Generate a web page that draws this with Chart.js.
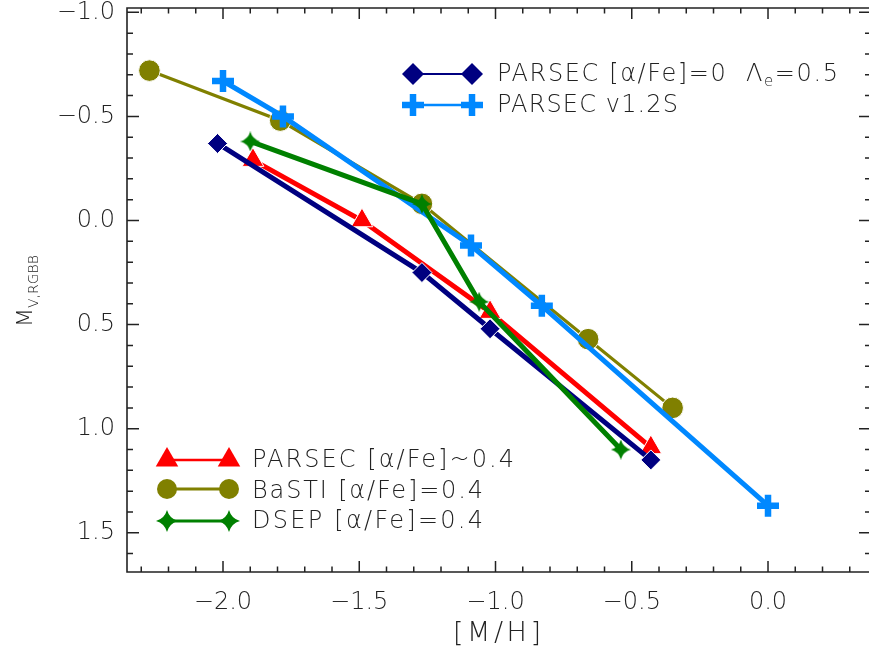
<!DOCTYPE html>
<html>
<head>
<meta charset="utf-8">
<script src="https://cdn.jsdelivr.net/npm/chart.js@4.4.1/dist/chart.umd.min.js"></script>
<style>
  html, body { margin: 0; padding: 0; background: #fff; overflow: hidden; }
  #wrap { width: 869px; height: 655px; }
</style>
</head>
<body>
<div id="wrap"><canvas id="c" width="869" height="655"></canvas></div>
<script>
// [M/H] and M_V of the red giant branch bump for each set of models
const mhParsec0 = [-2.02, -1.27, -1.02, -0.43];
const mvParsec0 = [-0.37, 0.25, 0.52, 1.15];

const mhParsecS = [-2.00, -1.78, -1.09, -0.83, 0.00];
const mvParsecS = [-0.67, -0.50, 0.12, 0.41, 1.37];

const mhParsecA = [-1.89, -1.49, -1.02, -0.43];
const mvParsecA = [-0.29, 0.00, 0.44, 1.09];

const mhBasti = [-2.27, -1.79, -1.27, -0.66, -0.35];
const mvBasti = [-0.72, -0.48, -0.08, 0.57, 0.90];

const mhDsep = [-1.90, -1.27, -1.06, -0.54];
const mvDsep = [-0.38, -0.08, 0.39, 1.10];

const xTickValues = [-2.0, -1.5, -1.0, -0.5, 0.0];
const yTickValues = [-1.0, -0.5, 0.0, 0.5, 1.0, 1.5];

const FAMILY = '"DejaVu Sans", sans-serif';
const WEIGHT = '200';
const INK = '#222';

const C_NAVY = '#000080';
const C_BLUE = '#0088ff';
const C_RED = '#ff0000';
const C_OLIVE = '#808000';
const C_GREEN = '#008000';

function fontStr(size) { return WEIGHT + ' ' + size + 'px ' + FAMILY; }

// four-pointed star marker
function makeStar(size, color) {
  const cv = document.createElement('canvas');
  cv.width = size; cv.height = size;
  const g = cv.getContext('2d');
  const c = size / 2, k = size * 0.11;
  g.fillStyle = color;
  g.beginPath();
  g.moveTo(c, 0);
  g.quadraticCurveTo(c + k, c - k, size, c);
  g.quadraticCurveTo(c + k, c + k, c, size);
  g.quadraticCurveTo(c - k, c + k, 0, c);
  g.quadraticCurveTo(c - k, c - k, c, 0);
  g.closePath();
  g.fill();
  return cv;
}
const starData = makeStar(20, C_GREEN);
const starLegend = makeStar(22, C_GREEN);

function pts(xs, ys) { return xs.map((x, i) => ({ x: x, y: ys[i] })); }

function fmt(v) {
  const s = (Math.abs(v) < 1e-9 ? 0 : v).toFixed(1);
  return s.replace('-', '\u2212');
}

// text drawn in runs (for subscripts), spread with letter spacing to a given width
function drawRuns(ctx, runs, x, baseline, targetWidth) {
  let w = 0, n = 0;
  runs.forEach(r => {
    ctx.font = fontStr(r.size);
    w += ctx.measureText(r.t).width;
    n += [...r.t].length;
  });
  const ls = targetWidth ? (targetWidth - w) / Math.max(1, n - 1) : 0;
  let cx = x;
  runs.forEach(r => {
    ctx.font = fontStr(r.size);
    const nw = ctx.measureText(r.t).width;
    ctx.letterSpacing = ls + 'px';
    ctx.fillText(r.t, cx, baseline + (r.dy || 0));
    ctx.letterSpacing = '0px';
    cx += nw + ls * [...r.t].length;
  });
}

function marker(ctx, x, y, m) {
  ctx.save();
  ctx.fillStyle = m.fill;
  ctx.strokeStyle = m.stroke;
  ctx.lineWidth = m.bw;
  Chart.helpers.drawPoint(ctx, { pointStyle: m.style, radius: m.r, rotation: 0, borderWidth: m.bw }, x, y);
  ctx.restore();
}

const legendItems = [
  { x1: 413, x2: 472, y: 74, lw: 2, color: C_NAVY,
    m: { style: 'rectRot', r: 11, fill: C_NAVY, stroke: C_NAVY, bw: 0 },
    runs: [{ t: 'PARSEC [\u03b1/Fe]=0  \u039b', size: 24 }, { t: 'e', size: 15, dy: 5 }, { t: '=0.5', size: 24 }],
    tx: 497, base: 80.5, tw: 341 },
  { x1: 413, x2: 472, y: 105, lw: 2.5, color: C_BLUE,
    m: { style: 'cross', r: 11, fill: C_BLUE, stroke: C_BLUE, bw: 6.5 },
    runs: [{ t: 'PARSEC v1.2S', size: 24 }],
    tx: 497, base: 111.5, tw: 181 },
  { x1: 167, x2: 229, y: 460, lw: 2.5, color: C_RED,
    m: { style: 'triangle', r: 13, fill: C_RED, stroke: C_RED, bw: 0 },
    runs: [{ t: 'PARSEC [\u03b1/Fe]~0.4', size: 24 }],
    tx: 252, base: 466.5, tw: 262 },
  { x1: 167, x2: 229, y: 489, lw: 3, color: C_OLIVE,
    m: { style: 'circle', r: 10, fill: C_OLIVE, stroke: C_OLIVE, bw: 0 },
    runs: [{ t: 'BaSTI [\u03b1/Fe]=0.4', size: 24 }],
    tx: 252, base: 497.5, tw: 231 },
  { x1: 167, x2: 229, y: 521, lw: 3, color: C_GREEN,
    m: { style: starLegend, r: 11, fill: C_GREEN, stroke: C_GREEN, bw: 0 },
    runs: [{ t: 'DSEP [\u03b1/Fe]=0.4', size: 24 }],
    tx: 252, base: 528, tw: 231 }
];

const decorPlugin = {
  id: 'decor',
  afterDraw(chart) {
    const ctx = chart.ctx;
    const a = chart.chartArea;
    const xs = chart.scales.x, ys = chart.scales.y;
    const L = a.left, T = a.top, B = a.bottom, R = a.right + 2;

    ctx.save();
    ctx.strokeStyle = INK;
    ctx.lineWidth = 1.6;
    ctx.beginPath();
    ctx.moveTo(R, T); ctx.lineTo(L, T); ctx.lineTo(L, B); ctx.lineTo(R, B);
    ctx.stroke();

    ctx.lineWidth = 1.5;
    const MAJ = 11, MIN = 5.5;
    const isMajor = (v, arr) => arr.some(t => Math.abs(t - v) < 1e-6);
    // x ticks, bottom and top
    const xMaj = xs.ticks.map(t => t.value);
    for (let v = Math.ceil(xs.min * 10) / 10; v <= xs.max + 1e-9; v = Math.round((v + 0.1) * 10) / 10) {
      const len = isMajor(v, xMaj) ? MAJ : MIN;
      const px = xs.getPixelForValue(v);
      ctx.beginPath();
      ctx.moveTo(px, B); ctx.lineTo(px, B - len);
      ctx.moveTo(px, T); ctx.lineTo(px, T + len);
      ctx.stroke();
    }
    // y ticks, left and right
    const yMaj = ys.ticks.map(t => t.value);
    for (let v = Math.ceil(ys.min * 10) / 10; v <= ys.max + 1e-9; v = Math.round((v + 0.1) * 10) / 10) {
      const len = isMajor(v, yMaj) ? MAJ + 1 : MIN + 0.5;
      const py = ys.getPixelForValue(v);
      ctx.beginPath();
      ctx.moveTo(L, py); ctx.lineTo(L + len, py);
      ctx.moveTo(R, py); ctx.lineTo(R - len, py);
      ctx.stroke();
    }

    // axis titles
    ctx.fillStyle = INK;
    ctx.textBaseline = 'alphabetic';
    ctx.textAlign = 'left';
    drawRuns(ctx, [{ t: '[M/H]', size: 27 }], 453, 641, 88);

    ctx.save();
    ctx.translate(32, 327);
    ctx.rotate(-Math.PI / 2);
    drawRuns(ctx, [{ t: 'M', size: 22 }, { t: 'V,RGBB', size: 14, dy: 6 }], 0, 0, 0);
    ctx.restore();

    // legend blocks
    legendItems.forEach(it => {
      ctx.strokeStyle = it.color;
      ctx.lineWidth = it.lw;
      ctx.beginPath();
      ctx.moveTo(it.x1, it.y); ctx.lineTo(it.x2, it.y);
      ctx.stroke();
      marker(ctx, it.x1, it.y, it.m);
      marker(ctx, it.x2, it.y, it.m);
      ctx.fillStyle = INK;
      drawRuns(ctx, it.runs, it.tx, it.base, it.tw);
    });
    ctx.restore();
  }
};

const datasets = [
  { label: 'DSEP [\u03b1/Fe]=0.4', data: pts(mhDsep, mvDsep),
    borderColor: C_GREEN, borderWidth: 5,
    pointStyle: starData, pointRadius: 10 },
  { label: 'PARSEC [\u03b1/Fe]=0 \u039be=0.5', data: pts(mhParsec0, mvParsec0),
    borderColor: C_NAVY, borderWidth: 5,
    pointStyle: 'rectRot', pointRadius: 10, pointBackgroundColor: C_NAVY,
    pointBorderColor: '#ffffff', pointBorderWidth: 1 },
  { label: 'PARSEC [\u03b1/Fe]~0.4', data: pts(mhParsecA, mvParsecA),
    borderColor: C_RED, borderWidth: 5,
    pointStyle: 'triangle', pointRadius: 12.5, pointBackgroundColor: C_RED,
    pointBorderColor: '#ffffff', pointBorderWidth: 1 },
  { label: 'PARSEC v1.2S', data: pts(mhParsecS, mvParsecS),
    borderColor: C_BLUE, borderWidth: 5,
    pointStyle: 'cross', pointRadius: 11, pointBackgroundColor: C_BLUE,
    pointBorderColor: C_BLUE, pointBorderWidth: 6.5 },
  { label: 'BaSTI [\u03b1/Fe]=0.4', data: pts(mhBasti, mvBasti),
    borderColor: C_OLIVE, borderWidth: 3.2,
    pointStyle: 'circle', pointRadius: 10.8, pointBackgroundColor: C_OLIVE,
    pointBorderColor: '#ffffff', pointBorderWidth: 1 }
];
datasets.forEach(d => { d.showLine = true; d.fill = false; d.tension = 0; d.clip = false; });

function noPad(s) { s.paddingLeft = 0; s.paddingRight = 0; s.paddingTop = 0; s.paddingBottom = 0; }

new Chart(document.getElementById('c'), {
  type: 'scatter',
  data: { datasets: datasets },
  options: {
    responsive: false,
    devicePixelRatio: 1,
    animation: false,
    events: [],
    layout: { padding: { top: 8, right: 0, bottom: 0, left: 0 }, autoPadding: false },
    plugins: { legend: { display: false }, tooltip: { enabled: false } },
    scales: {
      x: {
        type: 'linear', min: -2.3523, max: 0.3706,
        afterBuildTicks: s => { s.ticks = xTickValues.map(v => ({ value: v })); },
        afterFit: s => { s.height = 83; noPad(s); },
        grid: { display: false, drawTicks: false },
        border: { display: false },
        ticks: { padding: 16, color: INK, font: { family: FAMILY, size: 24, weight: WEIGHT },
                 callback: v => fmt(v), maxRotation: 0, autoSkip: false }
      },
      y: {
        type: 'linear', reverse: true, min: -1.0207, max: 1.6883,
        afterBuildTicks: s => { s.ticks = yTickValues.map(v => ({ value: v })); },
        afterFit: s => { s.width = 127; noPad(s); },
        grid: { display: false, drawTicks: false },
        border: { display: false },
        ticks: { padding: 12, color: INK, font: { family: FAMILY, size: 24, weight: WEIGHT },
                 callback: v => fmt(v), autoSkip: false }
      }
    }
  },
  plugins: [decorPlugin]
});
</script>
</body>
</html>
